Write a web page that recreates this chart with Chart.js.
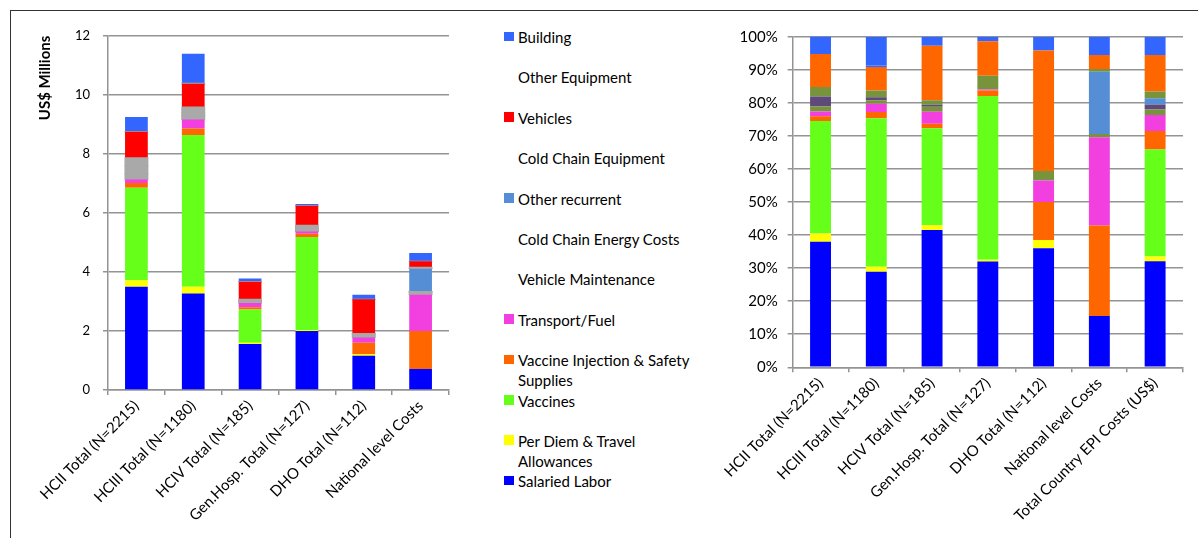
<!DOCTYPE html>
<html>
<head>
<meta charset="utf-8">
<script src="https://cdn.jsdelivr.net/npm/chart.js@4.4.0/dist/chart.umd.min.js"></script>
<style>
body { margin: 0; width: 1198px; height: 538px; overflow: hidden; background: #fff; font-family: Lato, sans-serif; }
#frame { position: absolute; left: 10px; top: 10px; width: 1188px; height: 528px; border-left: 1.5px solid #333; border-top: 1.5px solid #333; }
#cLeft { position: absolute; left: 10px; top: 10px; }
#cRight { position: absolute; left: 720px; top: 10px; }
#legend { position: absolute; left: 504px; top: 27px; }
.item { position: relative; height: 40.4px; padding-left: 14px; width: 184px; font-size: 15px; line-height: 20.2px; color: #000; }
.sw { position: absolute; left: 0; top: 4.5px; width: 10px; height: 9.5px; }
</style>
</head>
<body>
<div id="frame"></div>
<canvas id="cLeft" width="460" height="528"></canvas>
<div id="legend"></div>
<canvas id="cRight" width="478" height="528"></canvas>
<script>
// categories
const categoriesLeft = ["HCII Total (N=2215)", "HCIII Total (N=1180)", "HCIV Total (N=185)", "Gen.Hosp. Total (N=127)", "DHO Total (N=112)", "National level Costs"];
const categoriesRight = ["HCII Total (N=2215)", "HCIII Total (N=1180)", "HCIV Total (N=185)", "Gen.Hosp. Total (N=127)", "DHO Total (N=112)", "National level Costs", "Total Country EPI Costs (US$)"];

// series, bottom of the stack first
const seriesNames = ["Salaried Labor", "Per Diem & Travel Allowances", "Vaccines", "Vaccine Injection & Safety Supplies", "Transport/Fuel", "Vehicle Maintenance", "Cold Chain Energy Costs", "Other recurrent", "Cold Chain Equipment", "Vehicles", "Other Equipment", "Building"];

// left chart, US$ millions
const salariedM   = [3.50, 3.27, 1.56, 2.00, 1.16, 0.71];
const perDiemM    = [0.22, 0.23, 0.04, 0.03, 0.06, 0];
const vaccinesM   = [3.13, 5.14, 1.13, 3.15, 0, 0];
const injectionM  = [0.16, 0.22, 0.07, 0.11, 0.38, 1.29];
const transportM  = [0.12, 0.30, 0.15, 0.08, 0.18, 1.23];
const vehMaintM   = [0.17, 0.13, 0.05, 0.02, 0.12, 0.10];
const energyM     = [0.28, 0.10, 0.02, 0, 0, 0];
const otherRecM   = [0, 0, 0, 0, 0, 0.78];
const ccEquipM    = [0.28, 0.19, 0.05, 0.19, 0, 0.04];
const vehiclesM   = [0.89, 0.79, 0.60, 0.66, 1.17, 0.21];
const otherEquipM = [0, 0.02, 0, 0, 0, 0];
const buildingM   = [0.50, 1.00, 0.11, 0.06, 0.16, 0.28];

// right chart, percent of total
const salariedPct   = [38.0, 28.9, 41.5, 32.0, 36.0, 15.5, 32.1];
const perDiemPct    = [2.5, 1.5, 1.5, 0.5, 2.5, 0, 1.4];
const vaccinesPct   = [34.0, 44.9, 29.3, 49.6, 0, 0, 32.4];
const injectionPct  = [1.4, 1.9, 1.4, 1.6, 11.5, 27.4, 5.6];
const transportPct  = [1.5, 2.5, 3.6, 0.3, 6.5, 26.7, 4.8];
const vehMaintPct   = [1.6, 1.1, 1.5, 0.2, 2.9, 1.0, 1.7];
const energyPct     = [2.9, 0.9, 0.6, 0, 0, 0, 1.5];
const otherRecPct   = [0, 0, 0, 0, 0, 18.8, 1.9];
const ccEquipPct    = [2.9, 2.0, 1.4, 4.0, 0, 0.8, 2.0];
const vehiclesPct   = [10.0, 7.1, 16.5, 10.4, 36.4, 4.3, 11.1];
const otherEquipPct = [0, 0.5, 0, 0, 0, 0, 0];
const buildingPct   = [5.3, 8.6, 2.7, 1.4, 4.2, 5.5, 5.5];

// tick labels
const leftTickLabels = ["0", "2", "4", "6", "8", "10", "12"];
const rightTickLabels = ["0%", "10%", "20%", "30%", "40%", "50%", "60%", "70%", "80%", "90%", "100%"];

const leftValues = [salariedM, perDiemM, vaccinesM, injectionM, transportM, vehMaintM, energyM, otherRecM, ccEquipM, vehiclesM, otherEquipM, buildingM];
const rightValues = [salariedPct, perDiemPct, vaccinesPct, injectionPct, transportPct, vehMaintPct, energyPct, otherRecPct, ccEquipPct, vehiclesPct, otherEquipPct, buildingPct];

const GRAY = "#a9a9a9";
const leftColors = ["#0000ff", "#ffff00", "#66ff1a", "#ff6600", "#f23fe0", GRAY, GRAY, "#558ed5", GRAY, "#ff0000", GRAY, "#3366ff"];
const rightColors = ["#0000ff", "#ffff00", "#66ff1a", "#ff6600", "#f23fe0", "#77933c", "#5f497a", "#558ed5", "#77933c", "#ff6600", "#3366ff", "#3366ff"];

const gridColor = "#939393";
const tickFont = { family: "Lato", size: 15 };

const makeDatasets = (values, colors, pct) =>
    values.map((v, i) => ({
        label: seriesNames[i],
        data: v,
        backgroundColor: colors[i],
        borderWidth: 0,
        // grey pieces overlap a little so no seams show between them
        inflateAmount: colors[i] === GRAY ? 0.6 : "auto",
        barPercentage: pct,
        categoryPercentage: 1,
    }));

const xScale = (height) => ({
    stacked: true,
    afterFit: (s) => { s.height = height; },
    grid: { offset: true, drawOnChartArea: false, drawTicks: true, tickLength: 5, color: gridColor, lineWidth: 1.5 },
    border: { color: gridColor, width: 1.5 },
    ticks: { color: "#000", font: tickFont, minRotation: 45, maxRotation: 45, autoSkip: false, padding: 2 },
});

new Chart(document.getElementById("cLeft").getContext("2d"), {
    type: "bar",
    data: { labels: categoriesLeft, datasets: makeDatasets(leftValues, leftColors, 0.4) },
    options: {
        responsive: false,
        animation: false,
        layout: { padding: { top: 25.7, right: 21, left: 0, bottom: 0 } },
        plugins: { legend: { display: false }, tooltip: { enabled: false } },
        scales: {
            x: xScale(148),
            y: {
                stacked: true,
                min: 0,
                max: 12,
                afterFit: (s) => { s.width = 98; },
                grid: { color: gridColor, lineWidth: 1.5, tickLength: 5 },
                border: { color: gridColor, width: 1.5 },
                ticks: { stepSize: 2, color: "#000", font: { family: "Lato", size: 13 }, padding: 13,
                    callback: (v) => leftTickLabels[v / 2] },
                title: { display: true, text: "US$ Millions", align: "end", color: "#000",
                    font: { family: "Lato", size: 15, weight: "bold" }, padding: { top: 26.5, bottom: 0 } },
            },
        },
    },
});

new Chart(document.getElementById("cRight").getContext("2d"), {
    type: "bar",
    data: { labels: categoriesRight, datasets: makeDatasets(rightValues, rightColors, 0.375) },
    options: {
        responsive: false,
        animation: false,
        layout: { padding: { top: 26.7, right: 15, left: 0, bottom: 0 } },
        plugins: { legend: { display: false }, tooltip: { enabled: false } },
        scales: {
            x: xScale(170.7),
            y: {
                stacked: true,
                min: 0,
                max: 100,
                afterFit: (s) => { s.width = 70; },
                grid: { color: gridColor, lineWidth: 1.5, tickLength: 5 },
                border: { color: gridColor, width: 1.5 },
                ticks: { stepSize: 10, color: "#000", font: tickFont, padding: 10,
                    callback: (v) => rightTickLabels[v / 10] },
            },
        },
    },
});

// legend in the middle, top item is the top of the stack
const legend = document.getElementById("legend");
for (let i = seriesNames.length - 1; i >= 0; i--) {
    const item = document.createElement("div");
    item.className = "item";
    if (leftColors[i] !== GRAY) {
        const sw = document.createElement("span");
        sw.className = "sw";
        sw.style.background = leftColors[i];
        item.appendChild(sw);
    }
    item.appendChild(document.createTextNode(seriesNames[i]));
    legend.appendChild(item);
}
</script>
</body>
</html>
